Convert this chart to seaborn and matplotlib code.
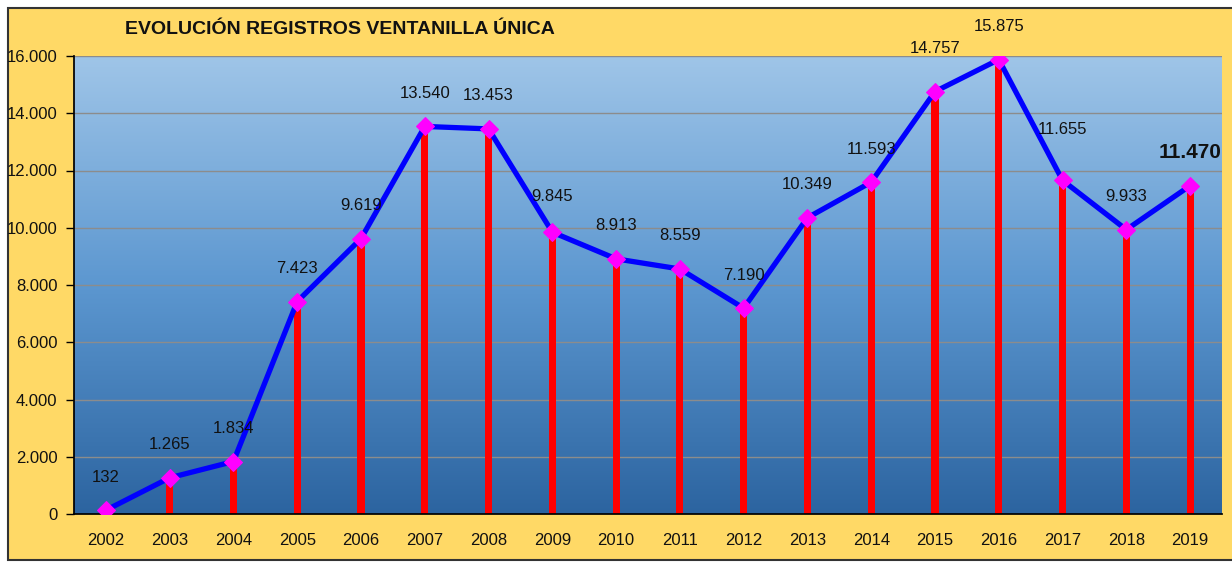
import numpy as np
import pandas as pd
import matplotlib
matplotlib.use("Agg")
import matplotlib.pyplot as plt
from matplotlib.patches import Rectangle
import seaborn as sns

years = ["2002", "2003", "2004", "2005", "2006", "2007", "2008", "2009", "2010",
         "2011", "2012", "2013", "2014", "2015", "2016", "2017", "2018", "2019"]
registros = [132, 1265, 1834, 7423, 9619, 13540, 13453, 9845, 8913,
             8559, 7190, 10349, 11593, 14757, 15875, 11655, 9933, 11470]
y_ticks = [0, 2000, 4000, 6000, 8000, 10000, 12000, 14000, 16000]
title = "EVOLUCIÓN REGISTROS VENTANILLA ÚNICA"

df = pd.DataFrame({"year": years, "registros": registros})


def fmt(v):
    return f"{v:,}".replace(",", ".")


sns.set_theme(style="white")
plt.rcParams["font.family"] = ["Liberation Sans", "DejaVu Sans"]

YELLOW = "#FFD966"
W, H = 1232, 563
fig = plt.figure(figsize=(12.32, 5.63), dpi=100)
fig.patch.set_facecolor("white")

# yellow frame with dark border, drawn in a background axes
bg = fig.add_axes([0, 0, 1, 1], zorder=-1)
bg.set_axis_off()
bg.set_xlim(0, W)
bg.set_ylim(H, 0)
bg.add_patch(Rectangle((8, 8), 1300, 552, facecolor=YELLOW,
                       edgecolor="#333333", linewidth=1.5))

ax = fig.add_axes([74 / W, 1 - 514 / H, (1222 - 74) / W, (514 - 56) / H], zorder=1)

# gradient background for the plot area
grad = np.linspace(0, 1, 256).reshape(-1, 1)
cmap = matplotlib.colors.LinearSegmentedColormap.from_list(
    "bg", ["#2C64A0", "#5C97D0", "#9FC5E8"])
ax.imshow(grad, extent=[0, 1, 0, 1], transform=ax.transAxes, origin="lower",
          aspect="auto", cmap=cmap, zorder=0)

for t in y_ticks[1:]:
    ax.axhline(t, color="#8C8C8C", linewidth=1, zorder=1)

sns.barplot(data=df, x="year", y="registros", color="#FF0000", width=0.11,
            saturation=1, linewidth=0, ax=ax, zorder=2)
sns.lineplot(data=df, x="year", y="registros", color="#0000FF", linewidth=3.8,
             marker="D", markersize=9, markerfacecolor="#FF00FF",
             markeredgecolor="#FF00FF", ax=ax, zorder=3)

# data labels
extra = {"2015": 10, "2017": 18, "2009": 3}
for i, (yr, v) in enumerate(zip(years, registros)):
    off = 33 + extra.get(yr, 0)
    if yr == "2019":
        ax.annotate(fmt(v), (i, v), xytext=(0, off), textcoords="offset pixels",
                    ha="center", va="center", fontsize=15, fontweight="bold",
                    color="#111111")
    else:
        ax.annotate(fmt(v), (i, v), xytext=(0, off), textcoords="offset pixels",
                    ha="center", va="center", fontsize=12, color="#111111")

ax.set_xlim(-0.5, len(years) - 0.5)
ax.set_ylim(0, 16000)
ax.set_yticks(y_ticks)
ax.set_yticklabels([fmt(t) for t in y_ticks], fontsize=12, color="#111111")
ax.set_xticks(np.arange(len(years)))
ax.set_xticklabels(years, fontsize=12, color="#111111")
ax.set_xticks(np.arange(len(years) + 1) - 0.5, minor=True)
ax.tick_params(axis="x", which="major", length=0, pad=14)
ax.tick_params(axis="x", which="minor", length=6, width=1, color="black", direction="out")
ax.tick_params(axis="y", length=6, width=1, color="black", direction="out", left=True, pad=6)
ax.set_xlabel("")
ax.set_ylabel("")
ax.grid(False)
for side in ["top", "right"]:
    ax.spines[side].set_visible(False)
ax.spines["left"].set_color("black")
ax.spines["bottom"].set_color("black")

fig.text(340 / W, 1 - 29 / H, title, ha="center", va="center", fontsize=14,
         fontweight="bold", color="#111111")

fig.savefig("out.png", dpi=100, facecolor=fig.get_facecolor())
